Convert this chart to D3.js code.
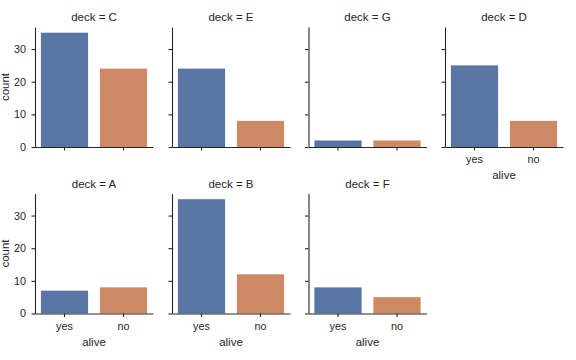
<!DOCTYPE html>
<html><head><meta charset="utf-8">
<script src="https://cdn.jsdelivr.net/npm/d3@7"></script>
<style>body{margin:0;background:#fff}svg text{font-family:"Liberation Sans",Arial,sans-serif;fill:#262626}</style>
</head><body>
<script>
const decks = ["C","E","G","D","A","B","F"];
const categories = ["yes","no"];
const yesCounts = [35,24,2,25,7,35,8];
const noCounts = [24,8,2,8,8,12,5];
const yTicks = [0,10,20,30];
const colors = ["#5875a4","#cc8963"];

const W=576,H=360;
const svg=d3.select("body").append("svg").attr("width",W).attr("height",H);
const colX=[35,172,308.5,445], rowY=[27,193.5], aw=118, ah=120;
const ymax=d3.max(yesCounts.concat(noCounts))*1.05;
const x=d3.scaleBand().domain(categories).range([0,aw]).paddingInner(0.2).paddingOuter(0.1);
const y=d3.scaleLinear().domain([0,ymax]).range([ah,0]);
const ncols=4;
decks.forEach((d,i)=>{
  const r=Math.floor(i/ncols), c=i%ncols;
  const g=svg.append("g").attr("transform",`translate(${colX[c]},${rowY[r]})`);
  const vals=[yesCounts[i],noCounts[i]];
  g.selectAll("rect").data(categories).enter().append("rect")
    .attr("x",k=>x(k)).attr("width",x.bandwidth())
    .attr("y",(k,j)=>y(vals[j])).attr("height",(k,j)=>ah-y(vals[j]))
    .attr("fill",(k,j)=>colors[j]);
  const showX = (r===1) || (i+ncols>=decks.length);
  const xa=d3.axisBottom(x).tickSize(3.5).tickPadding(5).tickSizeOuter(0);
  if(!showX) xa.tickFormat("");
  const gx=g.append("g").attr("transform",`translate(0,${ah})`).call(xa);
  const ya=d3.axisLeft(y).tickValues(yTicks).tickSize(3.5).tickPadding(5.5).tickSizeOuter(0);
  if(c!==0) ya.tickFormat("");
  const gy=g.append("g").call(ya);
  [gx,gy].forEach(a=>{a.selectAll("path,line").attr("stroke","#262626").attr("stroke-width",1.1);
    a.selectAll("text").attr("font-size",10.8).style("fill","#262626");});
  g.append("text").attr("x",aw/2).attr("y",-6).attr("text-anchor","middle").attr("font-size",11.5).text("deck = "+d);
  if(showX) g.append("text").attr("x",aw/2).attr("y",ah+32).attr("text-anchor","middle").attr("font-size",11.5).text("alive");
  if(c===0) g.append("text").attr("transform",`translate(${-26},${ah/2}) rotate(-90)`).attr("text-anchor","middle").attr("font-size",11.5).text("count");
});
</script>
</body></html>
